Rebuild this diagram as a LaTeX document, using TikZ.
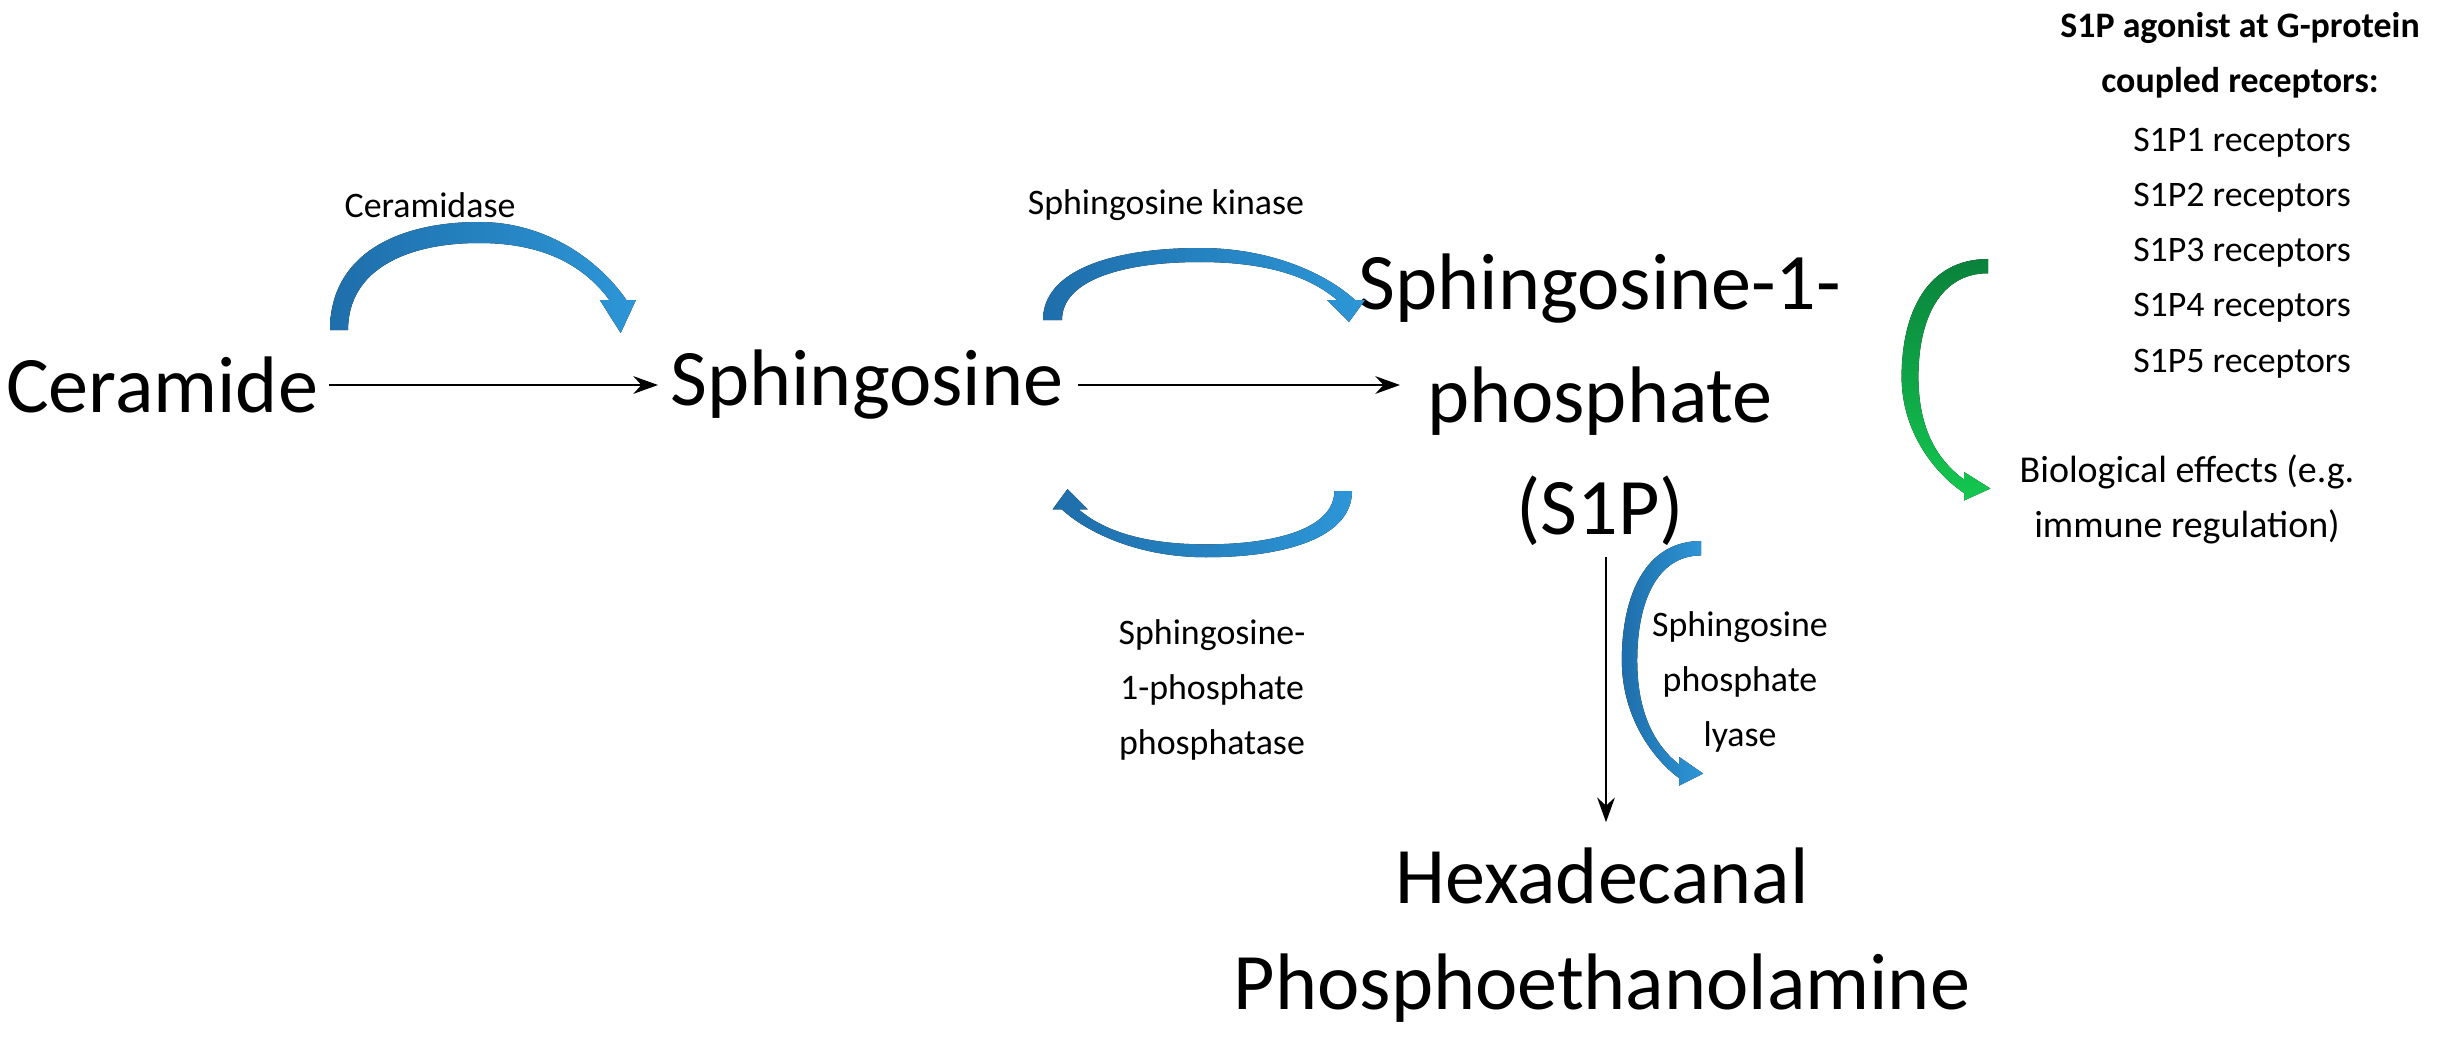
\documentclass[tikz,border=0pt]{standalone}
\usepackage{fontspec}
\setmainfont{Carlito}
\usetikzlibrary{arrows.meta}
\definecolor{bA}{RGB}{30,110,170}
\definecolor{bB}{RGB}{45,150,215}
\definecolor{gA}{RGB}{10,130,60}
\definecolor{gB}{RGB}{20,200,80}
\begin{document}
\begin{tikzpicture}[x=0.01cm,y=-0.01cm,
  big/.style={font=\fontsize{22.8}{32}\selectfont,inner sep=0pt,align=center},
  small/.style={font=\fontsize{10.2}{15.7}\selectfont,inner sep=0pt,align=center},
  conn/.style={line width=0.8pt,-{Stealth[length=7pt,width=5pt]}},
  blueshape/.style={left color=bA,right color=bB,draw=none},
  greenshape/.style={top color=gA,bottom color=gB,draw=none}]
\useasboundingbox (0,0) rectangle (2458,1042);
\def\carrow{(0,0) .. controls (0,50) and (70,72) .. (157,72) .. controls (230,72) and (285,45) .. (312,20)
  -- (322,20) -- (306,-2) -- (284,20) -- (294,20)
  .. controls (265,45) and (220,58) .. (157,58) .. controls (80,58) and (19,40) .. (19,0) -- cycle}

\node[big] (cer) at (162,385) {Ceramide};
\node[big] (sph) at (867,385) {Sphingosine};
\node[big] (s1p) at (1600,400) {Sphingosine-1-\\phosphate\\(S1P)};
\node[big,font=\fontsize{22.8}{30}\selectfont] (hex) at (1602,935) {Hexadecanal\\Phosphoethanolamine};

\node[small] (lcer) at (430,205) {Ceramidase};
\node[small] (lkin) at (1166,205) {Sphingosine kinase};
\node[small] (lpho) at (1212,690) {Sphingosine-\\1-phosphate\\phosphatase};
\node[small] (llya) at (1740,682) {Sphingosine\\phosphate\\lyase};
\node[small] (ltit) at (2240,55) {\bfseries S1P agonist at G-protein\\\bfseries coupled receptors:};
\node[small] (lrec) at (2242,253) {S1P1 receptors\\S1P2 receptors\\S1P3 receptors\\S1P4 receptors\\S1P5 receptors};
\node[small,font=\fontsize{10.8}{15.7}\selectfont] (lbio) at (2187,499) {Biological effects (e.g.\\immune regulation)};

\coordinate (c1) at ([xshift=0.1cm]cer.east);
\coordinate (c2) at ([xshift=0.06cm,yshift=-0.1cm]s1p.south);
\coordinate (c3) at ([yshift=0.25cm]c2 |- hex.north);
\draw[conn] (c1) -- (sph.west -| 658,0);
\draw[conn] ([xshift=0.14cm]sph.east) -- (1400,385);
\draw[conn] (c2) -- (c3);

\begin{scope}[shift={(330,330)},xscale=0.95,yscale=-1.5]
  \fill[blueshape] \carrow;
\end{scope}
\begin{scope}[shift={(1043,320)},yscale=-1]
  \fill[blueshape] \carrow;
\end{scope}
\begin{scope}[shift={(1352,491)},xscale=-0.93,yscale=0.92]
  \fill[blueshape] \carrow;
\end{scope}
\begin{scope}[cm={0,-0.76,1.1,0,(1701,541)}]
  \fill[blueshape] \carrow;
\end{scope}
\begin{scope}[cm={0,-0.75,1.2,0,(1988,259)}]
  \fill[greenshape] \carrow;
\end{scope}
\end{tikzpicture}
\end{document}
